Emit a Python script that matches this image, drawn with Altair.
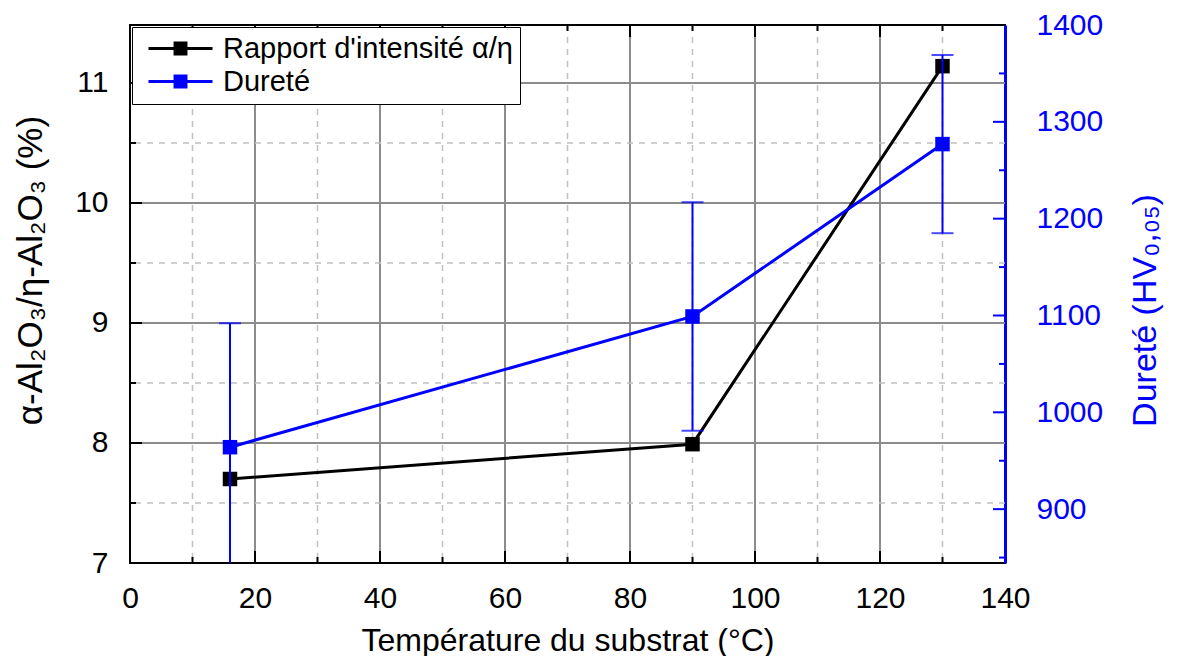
import altair as alt
import pandas as pd

# ---------------- data ----------------
temperature = [16, 90, 130]
ratio = [7.70, 7.99, 11.14]
hardness = [964, 1099, 1277]
hardness_err = [128, 118, 92]
series_names = ["Rapport d'intensité α/η", "Dureté"]
series_colors = ["#000000", "#0000ff"]

x_labels = [0, 20, 40, 60, 80, 100, 120, 140]
x_major = [20, 40, 60, 80, 100, 120]
x_minor = [10, 30, 50, 70, 90, 110, 130]
yl_labels = [7, 8, 9, 10, 11]
yl_major = [8, 9, 10, 11]
yl_minor = [7.5, 8.5, 9.5, 10.5]
yr_labels = [900, 1000, 1100, 1200, 1300, 1400]
yr_major = [900, 1000, 1100, 1200, 1300]
yr_minor = [850, 950, 1050, 1150, 1250, 1350]

W, H = 875, 538
FONT = "Liberation Sans"
BLUE = "#0000ff"
GRID_SOLID = "#8c8c8c"
GRID_DASH = "#c0c0c0"

df_ratio = pd.DataFrame({"t": temperature, "r": ratio, "series": series_names[0]})
df_hard = pd.DataFrame({
    "t": temperature,
    "h": hardness,
    "lo": [h - e for h, e in zip(hardness, hardness_err)],
    "hi": [h + e for h, e in zip(hardness, hardness_err)],
    "series": series_names[1],
})
df_caps = pd.DataFrame({
    "t": temperature * 2,
    "c": [h - e for h, e in zip(hardness, hardness_err)] + [h + e for h, e in zip(hardness, hardness_err)],
})

def vals(v):
    return pd.DataFrame({"v": v})

# ---------------- scales / axes ----------------
x_scale = alt.Scale(domain=[0, 140], nice=False, zero=False)
x_axis = alt.Axis(
    title="Température du substrat (°C)", values=x_labels, grid=False, domain=False,
    tickSize=0, labelFontSize=30, labelPadding=20, titleFontSize=32, titlePadding=12,
    labelColor="black", titleColor="black", titleFontWeight="normal", labelFlush=False,
)
yl_scale = alt.Scale(domain=[7, 11.483], nice=False, zero=False)
yl_axis = alt.Axis(
    title="α-Al₂O₃/η-Al₂O₃ (%)", values=yl_labels, grid=False, domain=False,
    tickSize=0, labelFontSize=30, labelPadding=22, titleFontSize=35, titlePadding=26,
    titleY=245, labelColor="black", titleColor="black", titleFontWeight="normal",
    orient="left",
)
yr_scale = alt.Scale(domain=[844.4, 1400], nice=False, zero=False)
yr_axis = alt.Axis(
    title="Dureté (HV₀,₀₅)", values=yr_labels, format="d", grid=False, domain=True,
    domainColor=BLUE, domainWidth=3, tickSize=0, labelFontSize=30, labelPadding=31,
    titleFontSize=34, titlePadding=26, titleAngle=270, titleBaseline="top", titleY=285,
    labelColor=BLUE, titleColor=BLUE, titleFontWeight="normal", orient="right",
    labelFlush=False,
)

def X(f):
    return alt.X(f, type="quantitative", scale=x_scale, axis=x_axis)

def YL(f):
    return alt.Y(f, type="quantitative", scale=yl_scale, axis=yl_axis)

def YR(f):
    return alt.Y(f, type="quantitative", scale=yr_scale, axis=yr_axis)

# legend symbol: a 64 px line (3 px thick) with a 14 px square in the middle
legend_symbol = "M-2.667,-0.125H2.667V0.125H-2.667Z M-0.58,-0.58H0.58V0.58H-0.58Z"
color = alt.Color(
    "series:N",
    scale=alt.Scale(domain=series_names, range=series_colors),
    legend=alt.Legend(
        title=None, orient="none", legendX=2, legendY=2, symbolType=legend_symbol,
        symbolSize=576, symbolStrokeWidth=0, symbolOffset=27, labelFontSize=29,
        labelFont=FONT, fillColor="white", strokeColor="black", padding=7,
        rowPadding=3, labelOffset=28, labelLimit=0, symbolOpacity=1,
    ),
)

# ---------------- left (ratio) layer ----------------
vgrid_major = alt.Chart(vals(x_major)).mark_rule(color=GRID_SOLID, strokeWidth=2).encode(x=X("v"))
vgrid_minor = alt.Chart(vals(x_minor)).mark_rule(color=GRID_DASH, strokeWidth=1.5, strokeDash=[6, 6]).encode(x=X("v"))
hgrid_major = alt.Chart(vals(yl_major)).mark_rule(color=GRID_SOLID, strokeWidth=2).encode(y=YL("v"))
hgrid_minor = alt.Chart(vals(yl_minor)).mark_rule(color=GRID_DASH, strokeWidth=1.5, strokeDash=[6, 6]).encode(y=YL("v"))

xt_bot_major = alt.Chart(vals(x_major)).mark_rule(color="black", strokeWidth=2).encode(
    x=X("v"), y=alt.value(H), y2=alt.value(H - 12))
xt_bot_minor = alt.Chart(vals(x_minor)).mark_rule(color="black", strokeWidth=2).encode(
    x=X("v"), y=alt.value(H), y2=alt.value(H - 6))
xt_top_major = alt.Chart(vals(x_major)).mark_rule(color="black", strokeWidth=2).encode(
    x=X("v"), y=alt.value(0), y2=alt.value(12))
xt_top_minor = alt.Chart(vals(x_minor)).mark_rule(color="black", strokeWidth=2).encode(
    x=X("v"), y=alt.value(0), y2=alt.value(6))
yl_ticks_major = alt.Chart(vals(yl_major)).mark_rule(color="black", strokeWidth=2).encode(
    y=YL("v"), x=alt.value(0), x2=alt.value(12))
yl_ticks_minor = alt.Chart(vals(yl_minor)).mark_rule(color="black", strokeWidth=2).encode(
    y=YL("v"), x=alt.value(0), x2=alt.value(6))

ratio_line = alt.Chart(df_ratio).mark_line(color="black", strokeWidth=3).encode(x=X("t"), y=YL("r"))
ratio_pts = alt.Chart(df_ratio).mark_square(size=210, opacity=1, filled=True).encode(
    x=X("t"), y=YL("r"), color=color)

left = alt.layer(
    vgrid_minor, vgrid_major, hgrid_minor, hgrid_major,
    xt_bot_major, xt_bot_minor, xt_top_major, xt_top_minor,
    yl_ticks_major, yl_ticks_minor, ratio_line, ratio_pts,
)

# ---------------- right (hardness) layer ----------------
yr_ticks_major = alt.Chart(vals(yr_major)).mark_rule(color=BLUE, strokeWidth=2).encode(
    y=YR("v"), x=alt.value(W), x2=alt.value(W - 12))
yr_ticks_minor = alt.Chart(vals(yr_minor)).mark_rule(color=BLUE, strokeWidth=2).encode(
    y=YR("v"), x=alt.value(W), x2=alt.value(W - 6))
err_rule = alt.Chart(df_hard).mark_rule(color=BLUE, strokeWidth=2, clip=True).encode(
    x=X("t"), y=YR("lo"), y2="hi")
err_caps = alt.Chart(df_caps).mark_tick(color=BLUE, thickness=2, size=22, orient="horizontal", clip=True).encode(
    x=X("t"), y=YR("c"))
hard_line = alt.Chart(df_hard).mark_line(color=BLUE, strokeWidth=3).encode(x=X("t"), y=YR("h"))
hard_pts = alt.Chart(df_hard).mark_square(size=210, opacity=1, filled=True).encode(
    x=X("t"), y=YR("h"), color=color)

right = alt.layer(yr_ticks_major, yr_ticks_minor, err_rule, err_caps, hard_line, hard_pts)

chart = (
    alt.layer(left, right)
    .resolve_scale(y="independent")
    .properties(
        width=W, height=H,
        padding={"left": 122, "top": 17, "right": 171, "bottom": 93},
        autosize=alt.AutoSizeParams(type="none"),
    )
    .configure(font=FONT)
    .configure_view(stroke="black", strokeWidth=2)
)

chart.save("out.html", embed_options={"renderer": "svg", "actions": False})
